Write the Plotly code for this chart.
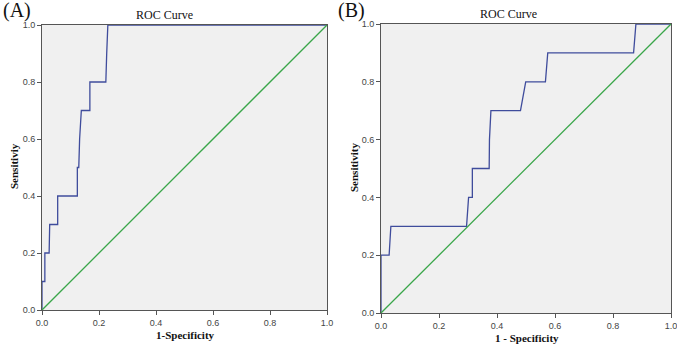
import plotly.graph_objects as go

# Panel A ROC curve
a_fpr = [0, 0, 0.01, 0.01, 0.025, 0.027, 0.055, 0.055, 0.124, 0.124, 0.129, 0.132, 0.138, 0.168, 0.168, 0.224, 0.227, 0.231, 1.0]
a_tpr = [0, 0.1, 0.1, 0.2, 0.2, 0.3, 0.3, 0.4, 0.4, 0.5, 0.5, 0.6, 0.7, 0.7, 0.8, 0.8, 0.9, 1.0, 1.0]

# Panel B ROC curve
b_fpr = [0, 0, 0.028, 0.034, 0.295, 0.302, 0.315, 0.315, 0.373, 0.374, 0.379, 0.481, 0.499, 0.567, 0.575, 0.871, 0.879, 1.0]
b_tpr = [0, 0.2, 0.2, 0.3, 0.3, 0.4, 0.4, 0.5, 0.5, 0.6, 0.7, 0.7, 0.8, 0.8, 0.9, 0.9, 1.0, 1.0]

ref_line = [0, 1]
tick_vals = [0, 0.2, 0.4, 0.6, 0.8, 1.0]
tick_text = ["0.0", "0.2", "0.4", "0.6", "0.8", "1.0"]

W, H = 677, 346
BLUE = "#3f4c9c"
GREEN = "#3aa64a"

fig = go.Figure()
fig.add_trace(go.Scatter(x=a_fpr, y=a_tpr, mode="lines", line=dict(color=BLUE, width=1.3),
                         xaxis="x", yaxis="y", showlegend=False))
fig.add_trace(go.Scatter(x=ref_line, y=ref_line, mode="lines", line=dict(color=GREEN, width=1.3),
                         xaxis="x", yaxis="y", showlegend=False))
fig.add_trace(go.Scatter(x=b_fpr, y=b_tpr, mode="lines", line=dict(color=BLUE, width=1.3),
                         xaxis="x2", yaxis="y2", showlegend=False))
fig.add_trace(go.Scatter(x=ref_line, y=ref_line, mode="lines", line=dict(color=GREEN, width=1.3),
                         xaxis="x2", yaxis="y2", showlegend=False))

def px_x(p):
    return p / W

def px_y(p):
    return 1 - p / H

axis_common = dict(range=[0, 1], tickvals=tick_vals, ticktext=tick_text, showgrid=False,
                   zeroline=False, showline=True, linecolor="#555555", linewidth=1, mirror=True,
                   ticks="outside", ticklen=4, tickcolor="#555555", tickwidth=1,
                   tickfont=dict(family="Liberation Sans", size=9, color="#444444"),
                   fixedrange=True, automargin=False, ticklabeloverflow="allow")

fig.update_layout(
    width=W, height=H,
    margin=dict(l=0, r=0, t=0, b=0, autoexpand=False),
    paper_bgcolor="white",
    plot_bgcolor="#f0f0f0",
    xaxis=dict(domain=[px_x(42), px_x(327)], anchor="y", **axis_common),
    yaxis=dict(domain=[px_y(310), px_y(25)], anchor="x", **axis_common),
    xaxis2=dict(domain=[px_x(381), px_x(671)], anchor="y2", **axis_common),
    yaxis2=dict(domain=[px_y(313), px_y(24)], anchor="x2", **axis_common),
)

serif = "Liberation Serif"
ann = []
def add_text(text, x, y, size, bold=False, angle=0, xanchor="center", yanchor="middle"):
    ann.append(dict(text=("<b>%s</b>" % text) if bold else text, x=px_x(x), y=px_y(y),
                    xref="paper", yref="paper", showarrow=False, textangle=angle,
                    xanchor=xanchor, yanchor=yanchor,
                    font=dict(family=serif, size=size, color="#111111")))

add_text("(A)", 1, 10, 20, xanchor="left")
add_text("(B)", 336, 10, 20, xanchor="left")
add_text("ROC Curve", 164, 15, 12)
add_text("ROC Curve", 508, 14, 12)
add_text("1-Specificity", 185, 335, 11, bold=True)
add_text("1 - Specificity", 527, 338, 11, bold=True)
add_text("Sensitiviy", 14, 166, 11, bold=True, angle=-90)
add_text("Sensitivity", 354, 168, 11, bold=True, angle=-90)
fig.update_layout(annotations=ann)

fig.write_html("out.html", config={"displayModeBar": False},
               post_script="document.body.style.margin='0';document.body.style.overflow='hidden';")
